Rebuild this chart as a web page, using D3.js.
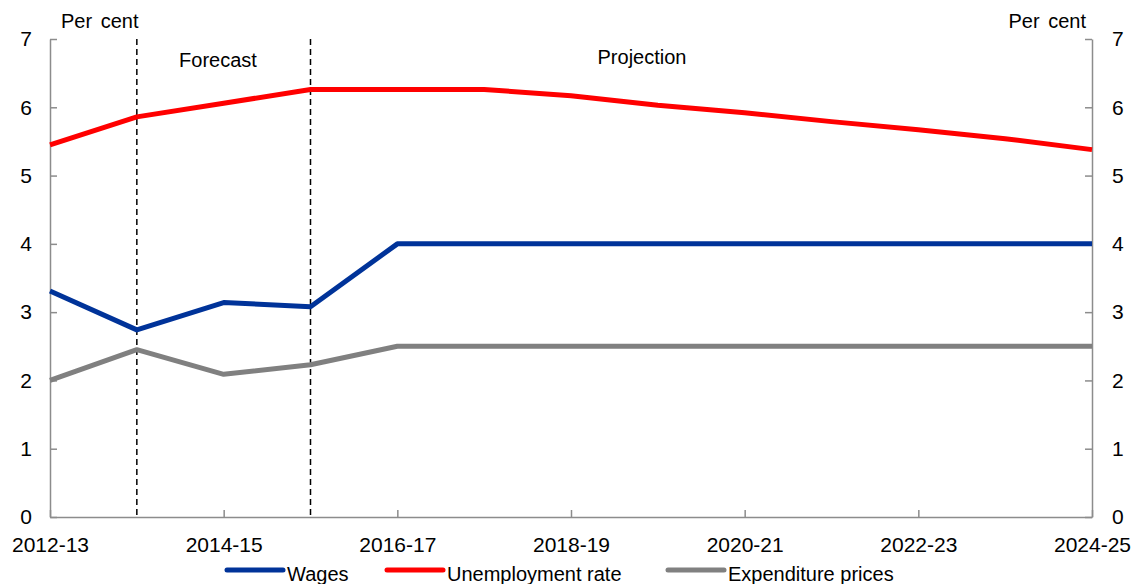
<!DOCTYPE html>
<html>
<head>
<meta charset="utf-8">
<script src="https://cdn.jsdelivr.net/npm/d3@7"></script>
<style>
body { margin: 0; background: #fff; }
svg text { font-family: "Liberation Sans", Arial, sans-serif; fill: #000; }
</style>
</head>
<body>
<div class="visHolder"></div>
<script>
var years = ['2012-13','2013-14','2014-15','2015-16','2016-17','2017-18','2018-19',
  '2019-20','2020-21','2021-22','2022-23','2023-24','2024-25'];
var xTickLabels = ['2012-13','2014-15','2016-17','2018-19','2020-21','2022-23','2024-25'];
var yTicks = [0, 1, 2, 3, 4, 5, 6, 7];

var wages = [3.31, 2.74, 3.14, 3.08, 4.0, 4.0, 4.0, 4.0, 4.0, 4.0, 4.0, 4.0, 4.0];
var unemployment = [5.45, 5.86, 6.06, 6.26, 6.26, 6.26, 6.17, 6.03, 5.92, 5.79, 5.67, 5.54, 5.38];
var expPrices = [2.0, 2.45, 2.09, 2.23, 2.5, 2.5, 2.5, 2.5, 2.5, 2.5, 2.5, 2.5, 2.5];

var seriesNames = ['Wages', 'Unemployment rate', 'Expenditure prices'];
var seriesColours = ['#003399', '#ff0000', '#808080'];
var dividers = ['2013-14', '2015-16'];

var width = 1139, height = 584;
var plotLeft = 50, plotRight = 1092, plotTop = 39, plotBottom = 517;

var svg = d3.select('.visHolder').append('svg')
  .attr('width', width)
  .attr('height', height);

var xScale = d3.scalePoint().domain(years).range([plotLeft, plotRight]);
var yScale = d3.scaleLinear().domain([0, 7]).range([plotBottom, plotTop]);

// axes, ticks point inward
var yLeft = svg.append('g')
  .attr('transform', 'translate(' + plotLeft + ',0)')
  .call(d3.axisLeft(yScale).tickValues(yTicks).tickFormat(d3.format('d'))
    .tickSizeInner(-7).tickSizeOuter(0).tickPadding(18));
var yRight = svg.append('g')
  .attr('transform', 'translate(' + plotRight + ',0)')
  .call(d3.axisRight(yScale).tickValues(yTicks).tickFormat(d3.format('d'))
    .tickSizeInner(-7).tickSizeOuter(0).tickPadding(20));
var xAxis = svg.append('g')
  .attr('transform', 'translate(0,' + plotBottom + ')')
  .call(d3.axisBottom(xScale).tickValues(xTickLabels).tickSizeInner(-7).tickSizeOuter(0).tickPadding(20));

[yLeft, yRight, xAxis].forEach(function(g) {
  g.selectAll('path, line').attr('stroke', '#8c8c8c').attr('stroke-width', 1.5);
  g.selectAll('text').style('font-size', '21px').attr('fill', '#000');
});

// forecast / projection dividers
svg.selectAll('.divider')
  .data(dividers)
  .enter()
  .append('line')
  .attr('class', 'divider')
  .attr('x1', function(d) { return xScale(d); })
  .attr('x2', function(d) { return xScale(d); })
  .attr('y1', plotTop)
  .attr('y2', plotBottom)
  .attr('stroke', '#000')
  .attr('stroke-width', 1.5)
  .attr('stroke-dasharray', '6,4');

svg.append('text').attr('x', 218).attr('y', 67)
  .attr('text-anchor', 'middle').style('font-size', '20px').text('Forecast');
svg.append('text').attr('x', 642).attr('y', 64)
  .attr('text-anchor', 'middle').style('font-size', '20px').text('Projection');

svg.append('text').attr('x', 61).attr('y', 28).style('font-size', '20px')
  .style('word-spacing', '3px').text('Per cent');
svg.append('text').attr('x', 1086).attr('y', 28).attr('text-anchor', 'end')
  .style('font-size', '20px').style('word-spacing', '3px').text('Per cent');

var line = d3.line()
  .x(function(d, i) { return xScale(years[i]); })
  .y(function(d) { return yScale(d); });

var allSeries = [wages, unemployment, expPrices];
allSeries.forEach(function(s, k) {
  svg.append('path')
    .datum(s)
    .attr('d', line)
    .attr('fill', 'none')
    .attr('stroke', seriesColours[k])
    .attr('stroke-width', 5)
    .attr('stroke-linejoin', 'round');
});

// legend
var legendX = [227, 387, 668];
var legend = svg.selectAll('.legend')
  .data(seriesNames)
  .enter()
  .append('g')
  .attr('class', 'legend')
  .attr('transform', function(d, i) { return 'translate(' + legendX[i] + ',570)'; });
legend.append('line')
  .attr('x1', 0).attr('x2', 56)
  .attr('stroke', function(d, i) { return seriesColours[i]; })
  .attr('stroke-width', 5)
  .attr('stroke-linecap', 'round');
legend.append('text')
  .attr('x', 60).attr('y', 11)
  .style('font-size', '20px')
  .text(function(d) { return d; });
</script>
</body>
</html>
